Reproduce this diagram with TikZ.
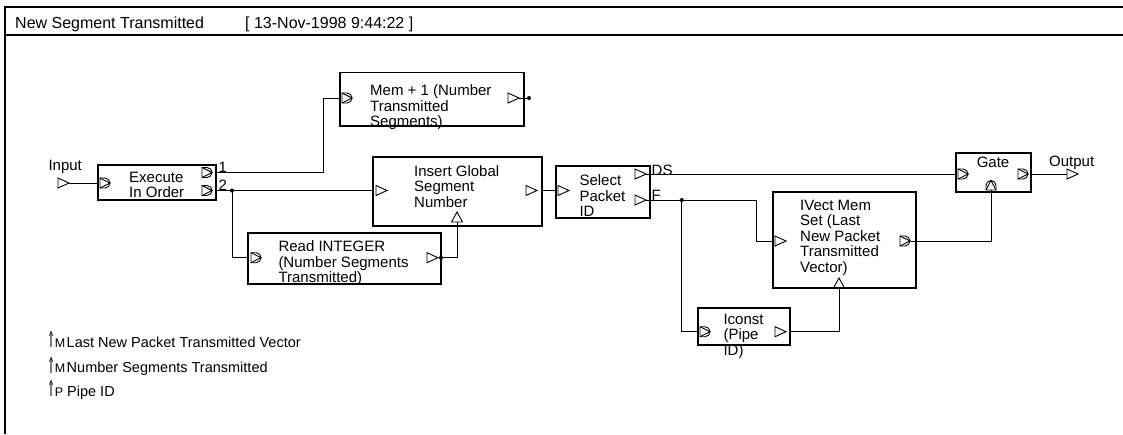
\documentclass[tikz,border=0pt]{standalone}
\usepackage{fontspec}
\setmainfont{Liberation Sans}
\newfontfamily\symf{DejaVu Sans}
\newcommand{\legarrow}{{\symf\fontsize{17}{17}\selectfont\raisebox{-0.5pt}{\scalebox{0.5}[1.3]{⇑}}}}
\begin{document}
\begin{tikzpicture}[x=1pt,y=-1pt,
  blk/.style={draw, line width=1.1pt, inner sep=0pt, outer sep=0pt, anchor=north west},
  txt/.style={font=\fontsize{15}{15.5}\selectfont, align=left, inner sep=0pt, anchor=north west},
  lbl/.style={font=\fontsize{15}{15}\selectfont, inner sep=0pt, anchor=base west},
  leg/.style={font=\fontsize{14.5}{14.5}\selectfont, inner sep=0pt, anchor=base west},
  wire/.style={line width=1pt},
  jdot/.style={circle, fill, inner sep=0pt, minimum size=4pt},
  prt/.style={line width=0.9pt, line join=miter},
  tri/.pic={\draw[prt] (0,-5) -- (11,0) -- (0,5) -- cycle;},
  utri/.pic={\draw[prt] (-5.5,0) -- (0,-10) -- (5.5,0) -- cycle;},
  dport/.pic={\draw[prt] (0,-5) -- (5,-5) arc[start angle=-90,end angle=90,radius=5] -- (0,5) -- cycle;
              \draw[prt] (0,-5) -- (10,0) -- (0,5);},
  uport/.pic={\draw[prt] (-5,0) -- (-5,-4.5) arc[start angle=180,end angle=360,radius=5] -- (5,0) -- cycle;
              \draw[prt] (-5,0) -- (0,-9.5) -- (5,0);}
]
\useasboundingbox (0,0) rectangle (1123,434);
% frame
\draw[line width=1.1pt] (5,434) -- (5,7) -- (1123,7);
\draw[line width=1.1pt] (5,35) -- (1123,35);
\node[anchor=base west, inner sep=0pt, font=\fontsize{16}{16}\selectfont] (title) at (15,28.3) {New Segment Transmitted};
\node[anchor=base west, inner sep=0pt, font=\fontsize{16}{16}\selectfont] (date) at (245,28.3) {[ 13-Nov-1998 9:44:22 ]};

% boxes
\node[blk, minimum width=118pt, minimum height=35pt] (exec) at (98,165) {};
\node[blk, minimum width=184pt, minimum height=53.5pt] (mem) at (340,72.5) {};
\node[blk, minimum width=169pt, minimum height=69pt] (ins) at (373,157) {};
\node[blk, minimum width=193pt, minimum height=51pt] (read) at (248,233) {};
\node[blk, minimum width=94pt, minimum height=52pt] (sel) at (556,166) {};
\node[blk, minimum width=75pt, minimum height=39pt] (gate) at (956,153) {};
\node[blk, minimum width=143pt, minimum height=96pt] (ivect) at (773,192) {};
\node[blk, minimum width=92pt, minimum height=37pt] (iconst) at (698,308) {};

% box texts
\node[txt] (exec-t) at (129,171.6) {Execute\\In Order};
\node[txt] (mem-t) at (370,84.6) {Mem + 1 (Number\\Transmitted\\Segments)};
\node[txt] (ins-t) at (414,165.3) {Insert Global\\Segment\\Number};
\node[txt] (read-t) at (278.3,240.6) {Read INTEGER\\(Number Segments\\Transmitted)};
\node[txt] (sel-t) at (579.3,174.6) {Select\\Packet\\ID};
\node[txt] (ivect-t) at (800,199.6) {IVect Mem\\Set (Last\\New Packet\\Transmitted\\Vector)};
\node[txt] (iconst-t) at (723.3,313.6) {Iconst\\(Pipe\\ID)};
\node[txt, anchor=center] (gate-t) at (993,162) {Gate};

% labels
\node[lbl] (in-l) at (48.3,170.7) {Input};
\node[lbl] (out-l) at (1049,166.7) {Output};
\node[lbl] (l1) at (218.5,172.8) {1};
\node[lbl] (l2) at (218.5,190.5) {2};
\node[lbl] (lds) at (651.5,175) {DS};
\node[lbl] (lf) at (651.5,200) {F};

% port coordinates
\coordinate (in-tip) at (69,183);
\coordinate (exec-i) at (98,183);
\coordinate (exec-o1) at (216,172.5);
\coordinate (exec-o2) at (216,190.5);
\coordinate (mem-i) at (340,98);
\coordinate (mem-tip) at (519,98);
\coordinate (j1) at (232,190.5);
\coordinate (ins-i) at (373,190.5);
\coordinate (ins-o) at (542,190.5);
\coordinate (ins-b) at (457,222);
\coordinate (read-i) at (248,257.7);
\coordinate (read-o) at (441,257.7);
\coordinate (sel-i) at (556,190.5);
\coordinate (sel-ds) at (646,174);
\coordinate (sel-f) at (646,200);
\coordinate (gate-i) at (956,174);
\coordinate (gate-o) at (1031,174);
\coordinate (gate-b) at (991,190);
\coordinate (out-p) at (1067,174);
\coordinate (j2) at (681.7,200);
\coordinate (iv-i) at (773,241);
\coordinate (iv-o) at (911,241);
\coordinate (iv-b) at (839,288);
\coordinate (ic-i) at (698,331.7);
\coordinate (ic-o) at (790,331.7);

% port glyphs
\pic at (58,183) {tri};
\pic at (100,183) {dport};
\pic at (202,172.5) {dport};
\pic at (202,190.5) {dport};
\pic at (342,98) {dport};
\pic at (508,98) {tri};
\pic at (376,190.5) {tri};
\pic at (526,190.5) {tri};
\pic at (457,222) {utri};
\pic at (251,257.7) {dport};
\pic at (427,257.7) {tri};
\pic at (558,190.5) {tri};
\pic at (635,174) {tri};
\pic at (635,200) {tri};
\pic at (958,174) {dport};
\pic at (1018,174) {dport};
\pic at (991,190) {uport};
\pic at (out-p) {tri};
\pic at (775,241) {tri};
\pic at (900,241) {dport};
\pic at (839,288) {utri};
\pic at (700,331.7) {dport};
\pic at (775,331.7) {tri};

% connectors
\draw[wire] (in-tip) -- (exec-i);
\draw[wire] (exec-o1) -- ++(107,0) |- (mem-i);
\draw[wire] (mem-tip) -- (529,98) node[jdot] (mem-dot) {};
\draw[wire] (exec-o2) -- (ins-i);
\draw[wire] (j1) |- (read-i);
\draw[wire] (read-o) -| (ins-b);
\draw[wire] (ins-o) -- (sel-i);
\draw[wire] (sel-ds) -- (gate-i);
\draw[wire] (sel-f) -- ++(110.7,0) |- (iv-i);
\draw[wire] (j2) |- (ic-i);
\draw[wire] (ic-o) -| (iv-b);
\draw[wire] (iv-o) -| (gate-b);
\draw[wire] (gate-o) -- (out-p);
\node[jdot] (j1d) at (j1) {};
\node[jdot] (j2d) at (j2) {};
\node[jdot] (rdot) at (read-o) {};

% legend
\node[leg] (leg1) at (47.5,347.3) {\legarrow{\fontsize{12.5}{12.5}\selectfont M}\hspace{1.5pt}Last New Packet Transmitted Vector};
\node[leg] (leg2) at (47.5,372.5) {\legarrow{\fontsize{12.5}{12.5}\selectfont M}\hspace{1.5pt}Number Segments Transmitted};
\node[leg] (leg3) at (47.5,396) {\legarrow{\fontsize{12.5}{12.5}\selectfont P} Pipe ID};
\end{tikzpicture}
\end{document}
